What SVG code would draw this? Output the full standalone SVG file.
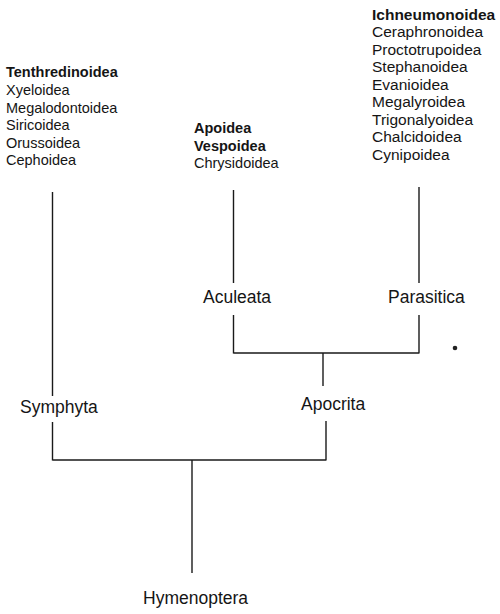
<svg xmlns="http://www.w3.org/2000/svg" width="500" height="614" viewBox="0 0 500 614">
<style>
.t{font-family:"Liberation Sans",Arial,sans-serif;fill:#151515}
.l{font-size:14.5px}
.r{font-size:15.5px}
.b{font-weight:bold}
.n{font-size:17.5px}
.c{stroke:#1a1a1a;stroke-width:1.4;fill:none}
</style>
<rect width="500" height="614" fill="#ffffff"/>
<g id="connectors">
<path class="c" d="M52.5 192V396M52.5 422V460.5M52.5 460H326M326 421V460.5"/>
<path class="c" d="M323 353V386"/>
<path class="c" d="M192 460V573"/>
<path class="c" d="M233.5 190V283M233.5 315V353.5M233.5 353H419M419 187V283M419 315V353.5"/>
</g>
<g id="symphyta-taxa">
<text class="t l b" x="6" y="77">Tenthredinoidea</text>
<text class="t l" x="6" y="95">Xyeloidea</text>
<text class="t l" x="6" y="112.5">Megalodontoidea</text>
<text class="t l" x="6" y="130">Siricoidea</text>
<text class="t l" x="6" y="147.5">Orussoidea</text>
<text class="t l" x="6" y="165">Cephoidea</text>
</g>
<g id="aculeata-taxa">
<text class="t l b" x="194" y="133">Apoidea</text>
<text class="t l b" x="194" y="150.5">Vespoidea</text>
<text class="t l" x="194" y="168">Chrysidoidea</text>
</g>
<g id="parasitica-taxa">
<text class="t r b" x="372" y="19.5">Ichneumonoidea</text>
<text class="t r" x="372" y="37">Ceraphronoidea</text>
<text class="t r" x="372" y="54.5">Proctotrupoidea</text>
<text class="t r" x="372" y="72">Stephanoidea</text>
<text class="t r" x="372" y="89.5">Evanioidea</text>
<text class="t r" x="372" y="107">Megalyroidea</text>
<text class="t r" x="372" y="124.5">Trigonalyoidea</text>
<text class="t r" x="372" y="142">Chalcidoidea</text>
<text class="t r" x="372" y="160">Cynipoidea</text>
</g>
<g id="aculeata"><text class="t n" x="203" y="303">Aculeata</text></g>
<g id="parasitica"><text class="t n" x="388" y="303">Parasitica</text></g>
<g id="apocrita"><text class="t n" x="301" y="410">Apocrita</text></g>
<g id="symphyta"><text class="t n" x="20" y="413">Symphyta</text></g>
<g id="hymenoptera"><text class="t n" x="143" y="604">Hymenoptera</text></g>
<circle cx="455" cy="348" r="2.3" fill="#222"/>
</svg>
